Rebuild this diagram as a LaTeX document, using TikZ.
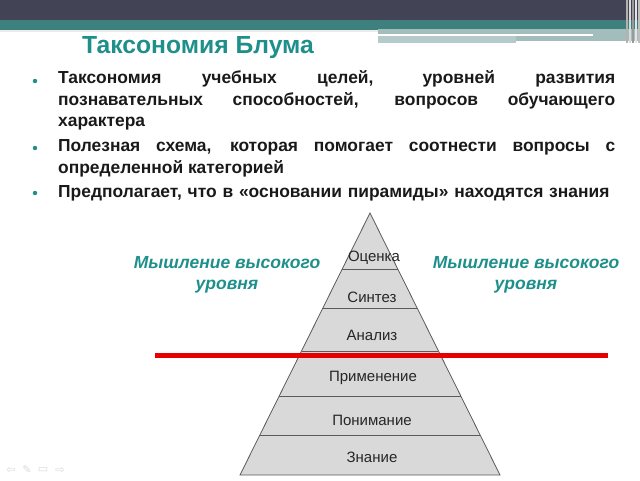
\documentclass[tikz,border=0pt]{standalone}
\usepackage{fontspec}
\setmainfont{Liberation Sans}
\newfontfamily\symfont{DejaVu Sans}
\definecolor{barDark}{HTML}{434356}
\definecolor{barTeal}{HTML}{3D807D}
\definecolor{barGray}{HTML}{A3BDBD}
\definecolor{titleTeal}{HTML}{1E8F8A}
\definecolor{pyrFill}{HTML}{D9D9D9}
\definecolor{pyrEdge}{HTML}{5A5A5A}
\definecolor{redLine}{HTML}{E80000}
\tikzset{
  bodypar/.style={anchor=north west, inner sep=0pt, text width=557pt, align=justify,
    font=\fontsize{17.4}{21.5}\selectfont\bfseries, text=black!90},
  bulletdot/.style={circle, fill=titleTeal, inner sep=0pt, minimum size=4.5pt},
  sidelabel/.style={align=center, inner sep=0pt, text=titleTeal,
    font=\fontsize{17.5}{21.5}\selectfont\bfseries\itshape},
  layerlabel/.style={inner sep=0pt, text=black!85, font=\fontsize{15}{18}\selectfont},
  navicon/.style={inner sep=0pt, text=black!15, font=\symfont\fontsize{11}{12}\selectfont},
}
\begin{document}
\begin{tikzpicture}[x=1pt,y=-1pt]
\useasboundingbox (0,0) rectangle (640,480);
% top bar
\fill[barDark] (0,0) rectangle (640,20);
\fill[barTeal] (0,20) rectangle (640,30);
\fill[black!8] (0,30) rectangle (378,32);
\fill[barGray] (378,29) rectangle (640,41);
\fill[white] (378,33.5) rectangle (593,36);
\fill[barGray!80] (378,36) rectangle (516,43);
\fill[white] (516,41) rectangle (625,45);
\foreach \xx/\cc in {626/black!30,629/black!15,632/black!40,635/black!10,638/black!25}
  \fill[\cc] (\xx,0) rectangle ++(2,43);
% title
\node[anchor=center, inner sep=0pt, text=titleTeal, font=\fontsize{24.7}{28}\selectfont\bfseries] (title) at (198,48) {Таксономия Блума};
% bullets
\node[bulletdot] (b1) at (35,81) {};
\node[bulletdot] (b2) at (35,148) {};
\node[bulletdot] (b3) at (35,193) {};
\node[bodypar] (p1) at (58,70.5) {Таксономия учебных целей, уровней развития\linebreak познавательных способностей, вопросов обучающего\linebreak характера};
\node[bodypar] (p2) at (58,139.5) {Полезная схема, которая помогает соотнести вопросы с\linebreak определенной категорией};
\node[bodypar, align=left] (p3) at (58,185) {Предполагает, что в «основании пирамиды» находятся знания};
% pyramid
\coordinate (apex) at (370,213);
\fill[pyrFill] (apex) -- (500,475) -- (240,475) -- cycle;
\foreach \yy in {269,308,351,396,435}
  \draw[pyrEdge, line width=0.8pt] ({370-0.49618*(\yy-213)},\yy) -- ({370+0.49618*(\yy-213)},\yy);
\draw[pyrEdge, line width=0.8pt] (apex) -- (500,475) -- (240,475) -- cycle;
\node[layerlabel] (l6) at (374,258) {Оценка};
\node[layerlabel] (l5) at (372,297) {Синтез};
\node[layerlabel] (l4) at (372,335) {Анализ};
\node[layerlabel] (l3) at (373,378) {Применение};
\node[layerlabel] (l2) at (372,420) {Понимание};
\node[layerlabel] (l1) at (372,457) {Знание};
% red line
\coordinate (rl) at (155,355);
\coordinate (rr) at (608,355);
\draw[redLine, line width=5pt] (rl) -- (rr);
% side labels
\node[sidelabel] (sl) at (227,275) {Мышление высокого\\уровня};
\node[sidelabel] (sr) at (526,275) {Мышление высокого\\уровня};
% nav icons
\node[navicon] (n1) at (11,470) {⇦};
\node[navicon] (n2) at (27,470) {✎};
\node[navicon] (n3) at (43,470) {▭};
\node[navicon] (n4) at (60,470) {⇨};
\end{tikzpicture}
\end{document}
